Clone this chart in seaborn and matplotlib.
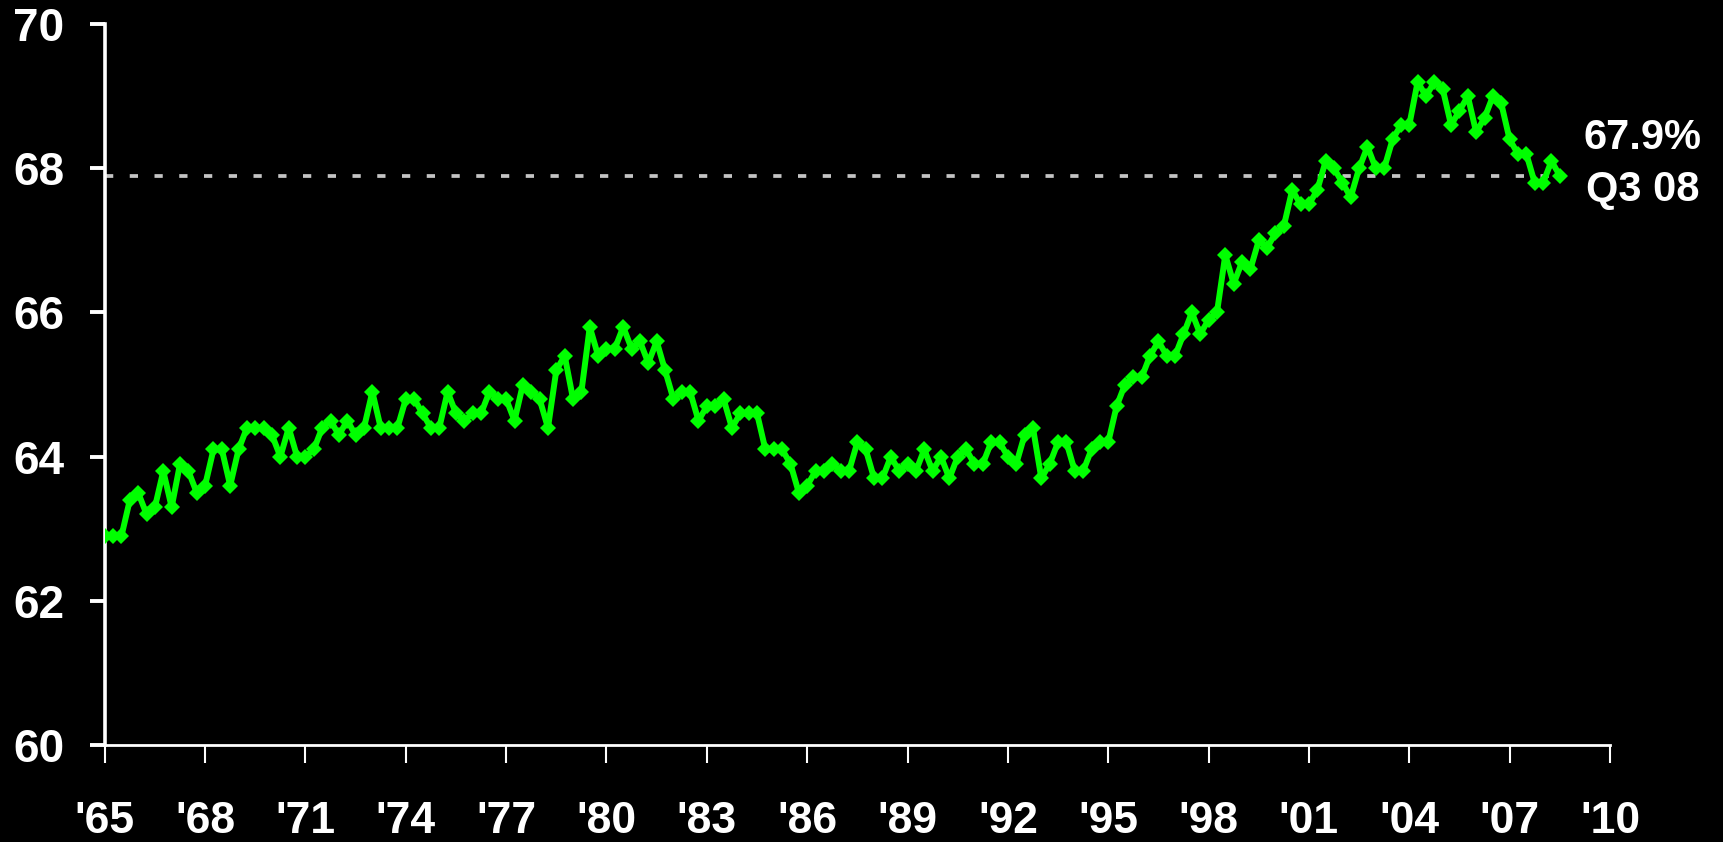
import matplotlib
matplotlib.use("Agg")
import matplotlib.pyplot as plt
import seaborn as sns
import pandas as pd

# Quarterly homeownership rate (%), 1965 Q1 .. 2008 Q3
rate_1965_1974 = [62.9, 62.9, 62.9, 63.4, 63.5, 63.2, 63.3, 63.8, 63.3, 63.9,
                  63.8, 63.5, 63.6, 64.1, 64.1, 63.6, 64.1, 64.4, 64.4, 64.4,
                  64.3, 64.0, 64.4, 64.0, 64.0, 64.1, 64.4, 64.5, 64.3, 64.5,
                  64.3, 64.4, 64.9, 64.4, 64.4, 64.4, 64.8, 64.8, 64.6, 64.4]
rate_1975_1984 = [64.4, 64.9, 64.6, 64.5, 64.6, 64.6, 64.9, 64.8, 64.8, 64.5,
                  65.0, 64.9, 64.8, 64.4, 65.2, 65.4, 64.8, 64.9, 65.8, 65.4,
                  65.5, 65.5, 65.8, 65.5, 65.6, 65.3, 65.6, 65.2, 64.8, 64.9,
                  64.9, 64.5, 64.7, 64.7, 64.8, 64.4, 64.6, 64.6, 64.6, 64.1]
rate_1985_1994 = [64.1, 64.1, 63.9, 63.5, 63.6, 63.8, 63.8, 63.9, 63.8, 63.8,
                  64.2, 64.1, 63.7, 63.7, 64.0, 63.8, 63.9, 63.8, 64.1, 63.8,
                  64.0, 63.7, 64.0, 64.1, 63.9, 63.9, 64.2, 64.2, 64.0, 63.9,
                  64.3, 64.4, 63.7, 63.9, 64.2, 64.2, 63.8, 63.8, 64.1, 64.2]
rate_1995_2004 = [64.2, 64.7, 65.0, 65.1, 65.1, 65.4, 65.6, 65.4, 65.4, 65.7,
                  66.0, 65.7, 65.9, 66.0, 66.8, 66.4, 66.7, 66.6, 67.0, 66.9,
                  67.1, 67.2, 67.7, 67.5, 67.5, 67.7, 68.1, 68.0, 67.8, 67.6,
                  68.0, 68.3, 68.0, 68.0, 68.4, 68.6, 68.6, 69.2, 69.0, 69.2]
rate_2005_2008 = [69.1, 68.6, 68.8, 69.0, 68.5, 68.7, 69.0, 68.9, 68.4, 68.2,
                  68.2, 67.8, 67.8, 68.1, 67.9]

first_quarter = "1965Q1"
last_quarter = "2008Q3"

x_tick_years = [1965, 1968, 1971, 1974, 1977, 1980, 1983, 1986, 1989, 1992,
                1995, 1998, 2001, 2004, 2007, 2010]
x_tick_labels = ["'65", "'68", "'71", "'74", "'77", "'80", "'83", "'86", "'89",
                 "'92", "'95", "'98", "'01", "'04", "'07", "'10"]
y_ticks = [60, 62, 64, 66, 68, 70]

latest_value = 67.9
latest_label = "67.9%"
latest_period_label = "Q3 08"

rates = rate_1965_1974 + rate_1975_1984 + rate_1985_1994 + rate_1995_2004 + rate_2005_2008
periods = pd.period_range(first_quarter, last_quarter, freq="Q")
df = pd.DataFrame({"t": periods.year + (periods.quarter - 1) / 4.0, "rate": rates})

sns.set_style("dark")
plt.rcParams["font.family"] = ["Liberation Sans", "DejaVu Sans"]
plt.rcParams["font.weight"] = "bold"

fig = plt.figure(figsize=(17.23, 8.42), dpi=100, facecolor="black")
ax = fig.add_axes([0.0608, 0.1152, 0.8736, 0.8561])
ax.set_facecolor("black")
ax.grid(False)

ax.hlines(latest_value, x_tick_years[0], df["t"].iloc[-1] + 0.1,
          colors="#c4c4c4", linestyles=(0, (2.2, 4.4)), linewidth=2.7, zorder=1)

sns.lineplot(data=df, x="t", y="rate", ax=ax, color="#00ff00", linewidth=4.3,
             marker="D", markersize=8, markeredgecolor="#00ff00",
             markeredgewidth=0, zorder=3)

ax.set_xlim(x_tick_years[0], x_tick_years[-1])
ax.set_ylim(y_ticks[0], y_ticks[-1])
ax.set_xticks(x_tick_years)
ax.set_xticklabels(x_tick_labels)
ax.set_yticks(y_ticks)
ax.set_xlabel("")
ax.set_ylabel("")

for side in ["top", "right"]:
    ax.spines[side].set_visible(False)
ax.spines["left"].set_visible(True)
ax.spines["left"].set_color("white")
ax.spines["left"].set_linewidth(2.6)
ax.spines["bottom"].set_visible(True)
ax.spines["bottom"].set_color("white")
ax.spines["bottom"].set_linewidth(2.0)

ax.tick_params(axis="x", bottom=True, colors="white", direction="out", length=13,
               width=1.5, labelsize=32, pad=27)
ax.tick_params(axis="y", left=True, colors="white", direction="out", length=11,
               width=2.8, labelsize=33, pad=18)
for lab in ax.get_xticklabels() + ax.get_yticklabels():
    lab.set_fontweight("bold")

ax.text(2009.2, 68.27, latest_label, color="white", fontsize=30, fontweight="bold",
        ha="left", va="baseline", clip_on=False)
ax.text(2009.28, 67.55, latest_period_label, color="white", fontsize=30,
        fontweight="bold", ha="left", va="baseline", clip_on=False)

fig.savefig("out.png", dpi=100, facecolor="black")
